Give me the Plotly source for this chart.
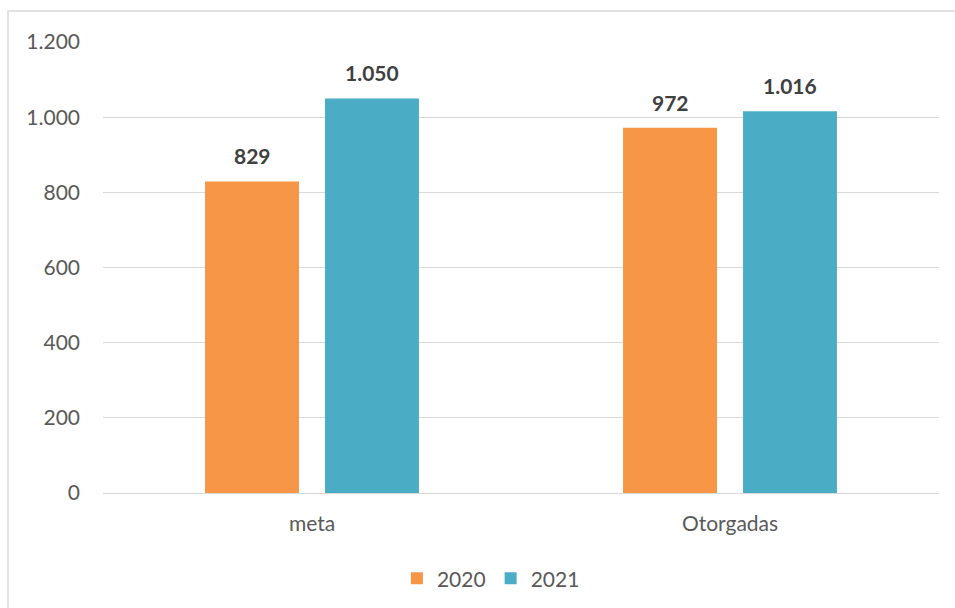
import plotly.graph_objects as go

# Data
categories = ["meta", "Otorgadas"]
years = ["2020", "2021"]
values_2020 = [829, 972]
values_2021 = [1050, 1016]
y_ticks = [0, 200, 400, 600, 800, 1000, 1200]
y_tick_labels = ["0", "200", "400", "600", "800", "1.000", "1.200"]

colors = {"2020": "#F79646", "2021": "#4BACC6"}
series = {"2020": values_2020, "2021": values_2021}

FONT = "Lato, Carlito, Calibri, sans-serif"
TEXT_GRAY = "#595959"
GRID = "#D9D9D9"
SIZE = 21


def fmt(v):
    return f"{v:,}".replace(",", ".")


fig = go.Figure()
for yr in years:
    fig.add_trace(go.Bar(
        name=yr,
        x=categories,
        y=series[yr],
        marker=dict(color=colors[yr], line=dict(width=0)),
        offsetgroup=yr,
    ))

# Bold value labels above each bar
annotations = []
n = len(years)
slot = (1 - 0.426) / n
for i, yr in enumerate(years):
    off = (i - (n - 1) / 2) * slot
    for j, cat in enumerate(categories):
        annotations.append(dict(
            x=j + off, y=series[yr][j], xref="x", yref="y",
            text=f"<b>{fmt(series[yr][j])}</b>",
            showarrow=False, yanchor="bottom", yshift=11,
            font=dict(family=FONT, size=SIZE, color="#404040"),
        ))

fig.update_layout(
    width=955, height=608,
    margin=dict(l=103, r=16, t=42, b=115, autoexpand=False),
    paper_bgcolor="white", plot_bgcolor="white",
    barmode="group", bargap=0.426, bargroupgap=0.217,
    font=dict(family=FONT, size=SIZE, color=TEXT_GRAY),
    showlegend=True,
    legend=dict(
        orientation="h", x=0.464, xanchor="center", y=-0.19, yanchor="middle",
        font=dict(family=FONT, size=SIZE, color=TEXT_GRAY),
        itemwidth=30, traceorder="normal",
    ),
    annotations=annotations,
    shapes=[dict(
        type="rect", xref="paper", yref="paper",
        x0=-0.1136, x1=1.2, y0=-0.4, y1=1.0687,
        line=dict(color=GRID, width=1.5), fillcolor="rgba(0,0,0,0)", layer="below",
    )],
)

fig.update_xaxes(
    type="category", showgrid=False, showline=False, ticks="",
    ticklabelstandoff=16, automargin=False,
    tickfont=dict(family=FONT, size=SIZE, color=TEXT_GRAY),
)
fig.update_yaxes(
    range=[0, 1200], tickvals=y_ticks, ticktext=y_tick_labels,
    showgrid=True, gridcolor=GRID, gridwidth=1.3,
    zeroline=True, zerolinecolor=GRID, zerolinewidth=1.3,
    showline=False, ticks="", ticklabelstandoff=22, automargin=False,
    tickfont=dict(family=FONT, size=SIZE, color=TEXT_GRAY),
)

fig.write_html("out.html")
